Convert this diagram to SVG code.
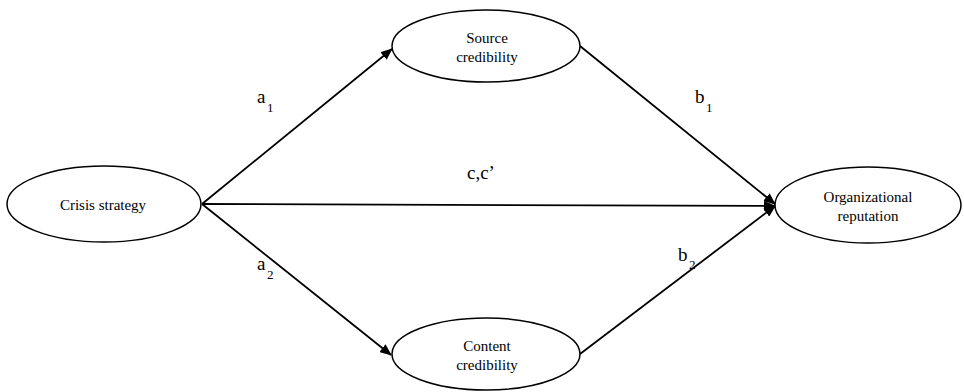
<svg xmlns="http://www.w3.org/2000/svg" width="964" height="392" viewBox="0 0 964 392">
<style>
.node{fill:#fff;stroke:#000;stroke-width:1.5}
.nt{font-family:'Liberation Serif','Times New Roman','DejaVu Serif',serif;font-size:15px;text-anchor:middle;fill:#000}
.lb{font-family:'Liberation Serif','Times New Roman','DejaVu Serif',serif;font-size:19px;fill:#000}
.sb{font-family:'Liberation Serif','Times New Roman','DejaVu Serif',serif;font-size:13px;fill:#000}
.edge{stroke:#000;stroke-width:1.8;fill:none;marker-end:url(#arr)}
</style>
<defs>
<marker id="arr" viewBox="0 0 12 10" refX="11" refY="5" markerWidth="12" markerHeight="10" markerUnits="userSpaceOnUse" orient="auto">
<path d="M0,0 L12,5 L0,10 Z" fill="#000"/>
</marker>
</defs>
<rect width="964" height="392" fill="#fff"/>
<g id="connectors">
<line class="edge" x1="202" y1="204" x2="392" y2="49"/>
<line class="edge" x1="580" y1="46" x2="775" y2="204"/>
<line class="edge" x1="202" y1="204" x2="775" y2="206"/>
<line class="edge" x1="202" y1="204" x2="391" y2="355"/>
<line class="edge" x1="580" y1="354" x2="775" y2="206"/>
</g>
<g id="labels">
<text class="lb" x="257" y="103">a</text><text class="sb" x="267" y="112">1</text>
<text class="lb" x="695" y="103">b</text><text class="sb" x="706" y="112">1</text>
<text class="lb" x="467" y="179">c,c’</text>
<text class="lb" x="257" y="270">a</text><text class="sb" x="267" y="279">2</text>
<text class="lb" x="678" y="261">b</text><text class="sb" x="689" y="269">2</text>
</g>
<g id="crisis">
<ellipse class="node" cx="104" cy="204" rx="97" ry="38"/>
<text class="nt" x="103" y="210">Crisis strategy</text>
</g>
<g id="source">
<ellipse class="node" cx="486" cy="46" rx="94" ry="36"/>
<text class="nt" x="487" y="43">Source</text>
<text class="nt" x="487" y="62">credibility</text>
</g>
<g id="org">
<ellipse class="node" cx="868" cy="205" rx="93" ry="38"/>
<text class="nt" x="868" y="202">Organizational</text>
<text class="nt" x="868" y="221">reputation</text>
</g>
<g id="content">
<ellipse class="node" cx="486" cy="354" rx="94" ry="36"/>
<text class="nt" x="487" y="351">Content</text>
<text class="nt" x="487" y="370">credibility</text>
</g>
</svg>
